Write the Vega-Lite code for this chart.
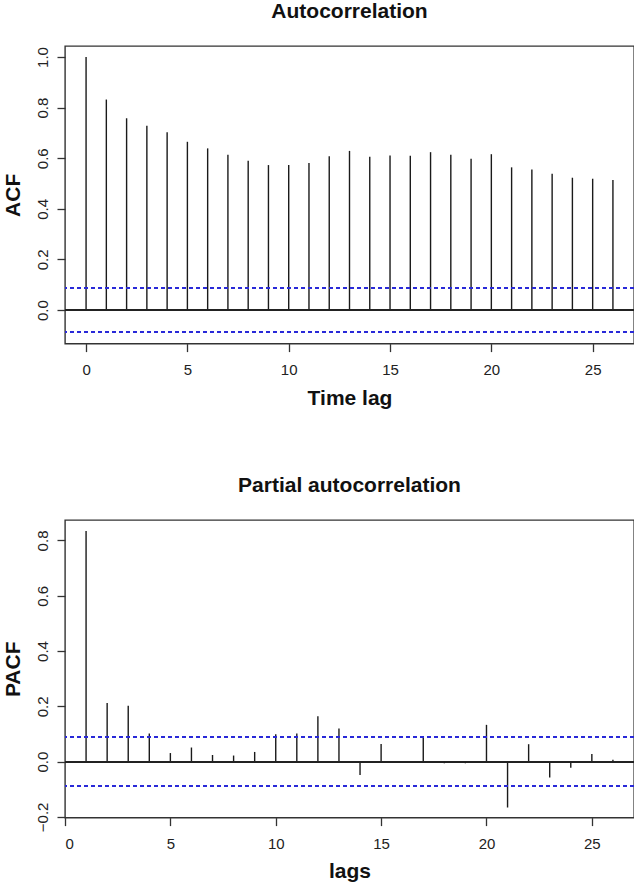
{
  "$schema": "https://vega.github.io/schema/vega-lite/v6.json",
  "padding": {"left": 1, "top": 0, "right": 0, "bottom": 0},
  "background": "white",
  "spacing": 64,
  "config": {
    "font": "Liberation Sans",
    "view": {"stroke": "#333333", "strokeWidth": 1.4},
    "axis": {"grid": false, "domain": false, "tickColor": "#333333", "tickWidth": 1.3, "tickSize": 8, "labelColor": "#222222", "labelFontSize": 15, "labelFont": "Liberation Sans", "titleFont": "Liberation Sans", "titleFontSize": 21, "titleFontWeight": "bold", "titleColor": "#111111"},
    "title": {"font": "Liberation Sans", "fontSize": 21, "fontWeight": "bold", "color": "#111111", "anchor": "middle", "baseline": "alphabetic", "offset": 24}
  },
  "datasets": {
    "acf": [
      {"lag": 0, "value": 1.0}, {"lag": 1, "value": 0.832}, {"lag": 2, "value": 0.758}, {"lag": 3, "value": 0.728},
      {"lag": 4, "value": 0.703}, {"lag": 5, "value": 0.665}, {"lag": 6, "value": 0.639}, {"lag": 7, "value": 0.614},
      {"lag": 8, "value": 0.590}, {"lag": 9, "value": 0.573}, {"lag": 10, "value": 0.573}, {"lag": 11, "value": 0.581},
      {"lag": 12, "value": 0.608}, {"lag": 13, "value": 0.629}, {"lag": 14, "value": 0.606}, {"lag": 15, "value": 0.611},
      {"lag": 16, "value": 0.610}, {"lag": 17, "value": 0.624}, {"lag": 18, "value": 0.614}, {"lag": 19, "value": 0.598},
      {"lag": 20, "value": 0.616}, {"lag": 21, "value": 0.564}, {"lag": 22, "value": 0.555}, {"lag": 23, "value": 0.539},
      {"lag": 24, "value": 0.523}, {"lag": 25, "value": 0.519}, {"lag": 26, "value": 0.514}
    ],
    "pacf": [
      {"lag": 1, "value": 0.834}, {"lag": 2, "value": 0.212}, {"lag": 3, "value": 0.202}, {"lag": 4, "value": 0.102},
      {"lag": 5, "value": 0.031}, {"lag": 6, "value": 0.051}, {"lag": 7, "value": 0.024}, {"lag": 8, "value": 0.022},
      {"lag": 9, "value": 0.035}, {"lag": 10, "value": 0.099}, {"lag": 11, "value": 0.102}, {"lag": 12, "value": 0.164},
      {"lag": 13, "value": 0.120}, {"lag": 14, "value": -0.048}, {"lag": 15, "value": 0.064}, {"lag": 16, "value": 0.001},
      {"lag": 17, "value": 0.090}, {"lag": 18, "value": -0.006}, {"lag": 19, "value": -0.006}, {"lag": 20, "value": 0.133},
      {"lag": 21, "value": -0.166}, {"lag": 22, "value": 0.063}, {"lag": 23, "value": -0.057}, {"lag": 24, "value": -0.022},
      {"lag": 25, "value": 0.028}, {"lag": 26, "value": 0.007}
    ]
  },
  "vconcat": [
    {
      "title": {"text": "Autocorrelation"},
      "width": 569,
      "height": 297.6,
      "data": {"name": "acf"},
      "layer": [
        {
          "mark": {"type": "rule", "color": "#1a1a1a", "strokeWidth": 1.4},
          "encoding": {
            "x": {"field": "lag", "type": "quantitative", "scale": {"domain": [-1.04, 27.04], "nice": false, "zero": false},
                  "axis": {"title": "Time lag", "values": [0, 5, 10, 15, 20, 25], "format": "d", "labelBaseline": "alphabetic", "labelPadding": 23, "titleBaseline": "alphabetic", "titleY": 61}},
            "y": {"field": "value", "type": "quantitative", "scale": {"domain": [-0.1326, 1.0436], "nice": false, "zero": false},
                  "axis": {"title": "ACF", "values": [0, 0.2, 0.4, 0.6, 0.8, 1.0], "format": ".1f", "labelAngle": -90, "labelAlign": "center", "labelBaseline": "alphabetic", "labelPadding": 10, "titleAngle": -90, "titleBaseline": "alphabetic", "titleAlign": "center", "titleX": -46, "titleY": 148.8}},
            "y2": {"datum": 0}
          }
        },
        {
          "mark": {"type": "rule", "color": "#222222", "strokeWidth": 1.1},
          "encoding": {"y": {"datum": 0}}
        },
        {
          "mark": {"type": "rule", "color": "#2a2ad8", "strokeWidth": 1.3, "strokeDash": [4, 3]},
          "encoding": {"y": {"datum": 0.088}}
        },
        {
          "mark": {"type": "rule", "color": "#2a2ad8", "strokeWidth": 1.3, "strokeDash": [4, 3]},
          "encoding": {"y": {"datum": -0.088}}
        }
      ]
    },
    {
      "title": {"text": "Partial autocorrelation"},
      "width": 569,
      "height": 297.6,
      "data": {"name": "pacf"},
      "layer": [
        {
          "mark": {"type": "rule", "color": "#1a1a1a", "strokeWidth": 1.4},
          "encoding": {
            "x": {"field": "lag", "type": "quantitative", "scale": {"domain": [0, 27], "nice": false, "zero": false},
                  "axis": {"title": "lags", "values": [0, 5, 10, 15, 20, 25], "format": "d", "labelBaseline": "alphabetic", "labelPadding": 23, "titleBaseline": "alphabetic", "titleY": 60}},
            "y": {"field": "value", "type": "quantitative", "scale": {"domain": [-0.2025, 0.874], "nice": false, "zero": false},
                  "axis": {"title": "PACF", "values": [-0.2, 0, 0.2, 0.4, 0.6, 0.8], "format": ".1f", "labelAngle": -90, "labelAlign": "center", "labelBaseline": "alphabetic", "labelPadding": 10, "titleAngle": -90, "titleBaseline": "alphabetic", "titleAlign": "center", "titleX": -46, "titleY": 148.8}},
            "y2": {"datum": 0}
          }
        },
        {
          "mark": {"type": "rule", "color": "#222222", "strokeWidth": 1.1},
          "encoding": {"y": {"datum": 0}}
        },
        {
          "mark": {"type": "rule", "color": "#2a2ad8", "strokeWidth": 1.3, "strokeDash": [4, 3]},
          "encoding": {"y": {"datum": 0.088}}
        },
        {
          "mark": {"type": "rule", "color": "#2a2ad8", "strokeWidth": 1.3, "strokeDash": [4, 3]},
          "encoding": {"y": {"datum": -0.088}}
        }
      ]
    }
  ]
}
